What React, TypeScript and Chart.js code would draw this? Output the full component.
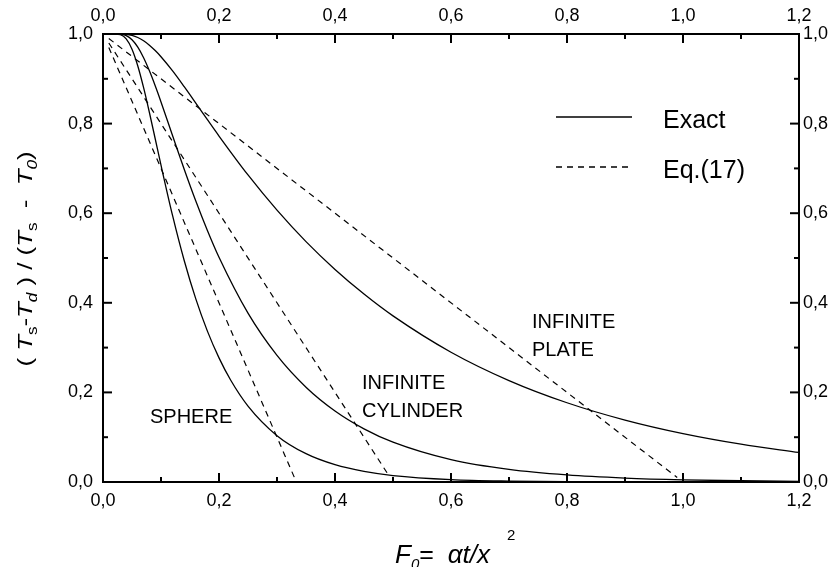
import React, { useEffect, useRef } from 'react';
import { Chart, registerables } from 'chart.js';
Chart.register(...registerables);

// ---- data ----
const plateFo = [0, 0.02, 0.04, 0.05, 0.06, 0.07, 0.08, 0.09, 0.10, 0.12, 0.14, 0.16, 0.18, 0.20, 0.25, 0.30, 0.35, 0.40, 0.45, 0.50, 0.60, 0.70, 0.80, 0.90, 1.00, 1.10, 1.20];
const plateExact = [1, 1.0, 0.9992, 0.9969, 0.9922, 0.9849, 0.9751, 0.963, 0.9493, 0.9175, 0.8824, 0.8458, 0.8088, 0.7723, 0.6854, 0.6068, 0.5366, 0.4745, 0.4195, 0.3708, 0.2897, 0.2264, 0.1769, 0.1382, 0.108, 0.0844, 0.0659];

const cylFo = [0, 0.02, 0.03, 0.04, 0.05, 0.06, 0.07, 0.08, 0.09, 0.10, 0.12, 0.14, 0.16, 0.18, 0.20, 0.25, 0.30, 0.35, 0.40, 0.45, 0.50, 0.60, 0.70, 0.80, 0.90, 1.00, 1.10, 1.20];
const cylExact = [1, 0.99995, 0.9995, 0.9963, 0.9871, 0.9706, 0.947, 0.9177, 0.8844, 0.8484, 0.7729, 0.698, 0.627, 0.5613, 0.5015, 0.3768, 0.2825, 0.2116, 0.1585, 0.1187, 0.0889, 0.0499, 0.028, 0.0157, 0.0088, 0.0049, 0.0028, 0.0016];

const sphereFo = [0, 0.02, 0.03, 0.04, 0.05, 0.06, 0.07, 0.08, 0.09, 0.10, 0.12, 0.14, 0.16, 0.18, 0.20, 0.22, 0.25, 0.30, 0.35, 0.40, 0.45, 0.50, 0.60, 0.70, 0.80, 1.00, 1.20];
const sphereExact = [1, 0.9999, 0.9984, 0.989, 0.966, 0.9286, 0.8801, 0.8248, 0.7662, 0.7071, 0.5944, 0.4944, 0.4087, 0.3368, 0.2771, 0.2277, 0.1695, 0.1035, 0.0632, 0.0386, 0.0236, 0.0144, 0.0054, 0.002, 0.0007, 0.0001, 0.0];

const eqSphereFo = [0.01, 0.331];
const eqSphere = [0.97, 0.007];
const eqCylFo = [0.01, 0.49];
const eqCyl = [0.98, 0.02];
const eqPlateFo = [0.01, 0.99];
const eqPlate = [0.99, 0.01];

const xTickLabels = ['0,0', '0,2', '0,4', '0,6', '0,8', '1,0', '1,2'];
const yTickLabels = ['0,0', '0,2', '0,4', '0,6', '0,8', '1,0'];

const legendLabels = ['Exact', 'Eq.(17)'];
const regionLabels = ['SPHERE', 'INFINITE', 'CYLINDER', 'INFINITE', 'PLATE'];

const FONT = "'Liberation Sans', Arial, sans-serif";
const DASH = [6, 5];

const toPts = (xs: number[], ys: number[]) => xs.map((x, i) => ({ x, y: ys[i] }));

type Seg = { t: string; size: number; italic?: boolean; dy?: number };

function segWidth(ctx: CanvasRenderingContext2D, s: Seg) {
  ctx.font = `${s.italic ? 'italic ' : ''}${s.size}px ${FONT}`;
  return ctx.measureText(s.t).width;
}

function drawSegs(ctx: CanvasRenderingContext2D, segs: Seg[], x: number, y: number) {
  let cx = x;
  for (const s of segs) {
    ctx.font = `${s.italic ? 'italic ' : ''}${s.size}px ${FONT}`;
    ctx.fillText(s.t, cx, y + (s.dy || 0));
    cx += ctx.measureText(s.t).width;
  }
}

const decorPlugin = {
  id: 'decor',
  afterDraw(chart: any) {
    const { ctx, chartArea: a, scales } = chart;
    const xs = scales.x;
    const ys = scales.y;
    ctx.save();
    ctx.strokeStyle = '#000';
    ctx.fillStyle = '#000';
    ctx.lineWidth = 2;
    const line = (x1: number, y1: number, x2: number, y2: number) => {
      ctx.beginPath();
      ctx.moveTo(x1, y1);
      ctx.lineTo(x2, y2);
      ctx.stroke();
    };
    // inward ticks
    for (let i = 0; i <= 12; i++) {
      const px = xs.getPixelForValue(i / 10);
      const L = i % 2 === 0 ? 9 : 5;
      line(px, a.bottom, px, a.bottom - L);
      line(px, a.top, px, a.top + L);
    }
    for (let i = 0; i <= 10; i++) {
      const py = ys.getPixelForValue(i / 10);
      const L = i % 2 === 0 ? 9 : 5;
      line(a.left, py, a.left + L, py);
      line(a.right, py, a.right - L, py);
    }

    // legend
    ctx.lineWidth = 1.3;
    line(556, 117, 632, 117);
    ctx.setLineDash(DASH);
    line(556, 167, 632, 167);
    ctx.setLineDash([]);
    ctx.font = `25px ${FONT}`;
    ctx.textBaseline = 'alphabetic';
    ctx.textAlign = 'left';
    ctx.fillText(legendLabels[0], 663, 128);
    ctx.fillText(legendLabels[1], 663, 178);

    // region labels
    ctx.font = `20px ${FONT}`;
    ctx.fillText(regionLabels[0], 150, 423);
    ctx.fillText(regionLabels[1], 362, 389);
    ctx.fillText(regionLabels[2], 362, 417);
    ctx.fillText(regionLabels[3], 532, 328);
    ctx.fillText(regionLabels[4], 532, 356);

    // x title
    drawSegs(ctx, [
      { t: 'F', size: 26, italic: true },
      { t: '0', size: 15, italic: true, dy: 6 },
      { t: '=  ', size: 25 },
      { t: '\u03b1t/x', size: 26, italic: true },
    ], 395, 563);
    ctx.font = `15px ${FONT}`;
    ctx.fillText('2', 507, 540);

    // y title (rotated, stretched along its length like the original)
    const ysegs: Seg[] = [
      { t: '( ', size: 21 },
      { t: 'T', size: 21, italic: true },
      { t: 's', size: 14, dy: 5 },
      { t: '-', size: 21 },
      { t: 'T', size: 21, italic: true },
      { t: 'd', size: 14, italic: true, dy: 5 },
      { t: ' ) / (', size: 21 },
      { t: 'T', size: 21, italic: true },
      { t: 's', size: 14, dy: 5 },
      { t: '  -  ', size: 21 },
      { t: 'T', size: 21, italic: true },
      { t: '0', size: 14, italic: true, dy: 5 },
      { t: ')', size: 21 },
    ];
    let total = 0;
    for (const s of ysegs) total += segWidth(ctx, s);
    const k = 215 / total;
    ctx.translate(32, 259);
    ctx.rotate(-Math.PI / 2);
    ctx.scale(k, 1);
    drawSegs(ctx, ysegs, -total / 2, 0);
    ctx.restore();
  },
};

export default function App() {
  const ref = useRef<HTMLCanvasElement | null>(null);
  useEffect(() => {
    if (!ref.current) return;
    Chart.defaults.font.family = FONT;
    Chart.defaults.color = '#000';
    const solid = (xs: number[], ys: number[]) => ({
      data: toPts(xs, ys),
      showLine: true,
      borderColor: '#000',
      borderWidth: 1.3,
      pointRadius: 0,
      fill: false,
      cubicInterpolationMode: 'monotone' as const,
    });
    const dashed = (xs: number[], ys: number[]) => ({
      data: toPts(xs, ys),
      showLine: true,
      borderColor: '#000',
      borderWidth: 1.2,
      borderDash: DASH,
      pointRadius: 0,
      fill: false,
    });
    const tickFont = { size: 18, family: FONT };
    const chart = new Chart(ref.current, {
      type: 'scatter',
      data: {
        datasets: [
          solid(plateFo, plateExact),
          solid(cylFo, cylExact),
          solid(sphereFo, sphereExact),
          dashed(eqSphereFo, eqSphere),
          dashed(eqCylFo, eqCyl),
          dashed(eqPlateFo, eqPlate),
        ],
      },
      options: {
        animation: false,
        responsive: true,
        maintainAspectRatio: false,
        layout: { padding: 0 },
        plugins: { legend: { display: false }, tooltip: { enabled: false } },
        scales: {
          x: {
            type: 'linear', position: 'bottom', min: 0, max: 1.2,
            grid: { display: false, drawTicks: false },
            border: { display: true, width: 2, color: '#000' },
            ticks: { stepSize: 0.2, autoSkip: false, maxRotation: 0, padding: 8, font: tickFont, color: '#000',
              callback: (_v: any, i: number) => xTickLabels[i] },
            afterFit: (s: any) => { s.height = 85; },
          },
          x2: {
            type: 'linear', position: 'top', min: 0, max: 1.2,
            grid: { display: false, drawTicks: false },
            border: { display: true, width: 2, color: '#000' },
            ticks: { stepSize: 0.2, autoSkip: false, maxRotation: 0, padding: 7, font: tickFont, color: '#000',
              callback: (_v: any, i: number) => xTickLabels[i] },
            afterFit: (s: any) => { s.height = 34; },
          },
          y: {
            type: 'linear', position: 'left', min: 0, max: 1,
            grid: { display: false, drawTicks: false },
            border: { display: true, width: 2, color: '#000' },
            ticks: { stepSize: 0.2, autoSkip: false, padding: 10, font: tickFont, color: '#000',
              callback: (_v: any, i: number) => yTickLabels[i] },
            afterFit: (s: any) => { s.width = 103; },
          },
          y2: {
            type: 'linear', position: 'right', min: 0, max: 1,
            grid: { display: false, drawTicks: false },
            border: { display: true, width: 2, color: '#000' },
            ticks: { stepSize: 0.2, autoSkip: false, padding: 4, font: tickFont, color: '#000',
              callback: (_v: any, i: number) => yTickLabels[i] },
            afterFit: (s: any) => { s.width = 40; },
          },
        },
      },
      plugins: [decorPlugin],
    } as any);
    return () => chart.destroy();
  }, []);
  return (
    <div style={{ position: 'fixed', left: 0, top: 0, width: 839, height: 567, background: '#fff' }}>
      <canvas ref={ref} />
    </div>
  );
}
